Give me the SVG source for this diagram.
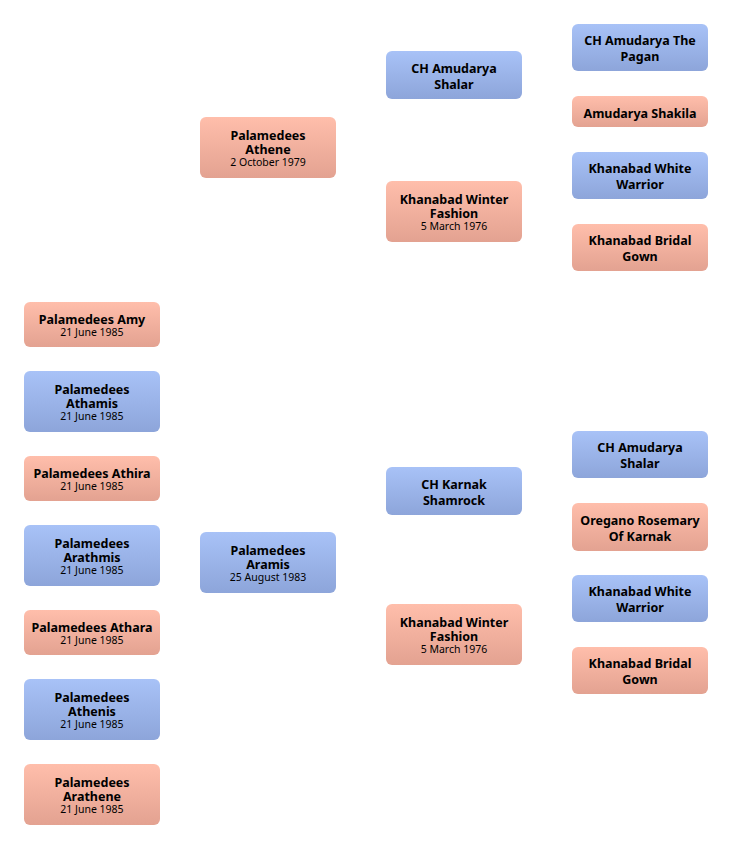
<svg xmlns="http://www.w3.org/2000/svg" width="732" height="849" viewBox="0 0 732 849">
<defs>
<linearGradient id="gp" x1="0" y1="0" x2="0" y2="1">
<stop offset="0" stop-color="#ffbeab"/>
<stop offset="1" stop-color="#e3a291"/>
</linearGradient>
<linearGradient id="gb" x1="0" y1="0" x2="0" y2="1">
<stop offset="0" stop-color="#a8c2f7"/>
<stop offset="1" stop-color="#8da5da"/>
</linearGradient>
</defs>
<style>
.p{fill:url(#gp)}
.b{fill:url(#gb)}
text{font-family:"Noto Sans","DejaVu Sans",sans-serif;text-anchor:middle;fill:#000}
.n{font-size:12.5px;font-weight:bold}
.d{font-size:10.5px}
</style>
<rect width="732" height="849" fill="#fff"/>
<g id="connectors"></g>

<g id="amy"><rect class="p" x="24" y="302" width="136" height="45" rx="6"/>
<text class="n" x="92" y="323.5">Palamedees Amy</text><text class="d" x="92" y="335.5">21 June 1985</text></g>
<g id="athamis"><rect class="b" x="24" y="371" width="136" height="61" rx="6"/>
<text class="n" x="92" y="393.5">Palamedees</text><text class="n" x="92" y="408">Athamis</text><text class="d" x="92" y="420">21 June 1985</text></g>
<g id="athira"><rect class="p" x="24" y="456" width="136" height="45" rx="6"/>
<text class="n" x="92" y="477.5">Palamedees Athira</text><text class="d" x="92" y="489.5">21 June 1985</text></g>
<g id="arathmis"><rect class="b" x="24" y="525" width="136" height="61" rx="6"/>
<text class="n" x="92" y="547.5">Palamedees</text><text class="n" x="92" y="562">Arathmis</text><text class="d" x="92" y="574">21 June 1985</text></g>
<g id="athara"><rect class="p" x="24" y="610" width="136" height="45" rx="6"/>
<text class="n" x="92" y="631.5">Palamedees Athara</text><text class="d" x="92" y="643.5">21 June 1985</text></g>
<g id="athenis"><rect class="b" x="24" y="679" width="136" height="61" rx="6"/>
<text class="n" x="92" y="701.5">Palamedees</text><text class="n" x="92" y="716">Athenis</text><text class="d" x="92" y="728">21 June 1985</text></g>
<g id="arathene"><rect class="p" x="24" y="764" width="136" height="61" rx="6"/>
<text class="n" x="92" y="786.5">Palamedees</text><text class="n" x="92" y="801">Arathene</text><text class="d" x="92" y="813">21 June 1985</text></g>

<g id="athene"><rect class="p" x="200" y="117" width="136" height="61" rx="6"/>
<text class="n" x="268" y="139.5">Palamedees</text><text class="n" x="268" y="154">Athene</text><text class="d" x="268" y="166">2 October 1979</text></g>
<g id="aramis"><rect class="b" x="200" y="532" width="136" height="61" rx="6"/>
<text class="n" x="268" y="554.5">Palamedees</text><text class="n" x="268" y="569">Aramis</text><text class="d" x="268" y="581">25 August 1983</text></g>

<g id="shalar1"><rect class="b" x="386" y="51" width="136" height="48" rx="6"/>
<text class="n" x="454" y="72.5">CH Amudarya</text><text class="n" x="454" y="88.5">Shalar</text></g>
<g id="kwf1"><rect class="p" x="386" y="181" width="136" height="61" rx="6"/>
<text class="n" x="454" y="203.5">Khanabad Winter</text><text class="n" x="454" y="218">Fashion</text><text class="d" x="454" y="230">5 March 1976</text></g>
<g id="karnak"><rect class="b" x="386" y="467" width="136" height="48" rx="6"/>
<text class="n" x="454" y="488.5">CH Karnak</text><text class="n" x="454" y="504.5">Shamrock</text></g>
<g id="kwf2"><rect class="p" x="386" y="604" width="136" height="61" rx="6"/>
<text class="n" x="454" y="626.5">Khanabad Winter</text><text class="n" x="454" y="641">Fashion</text><text class="d" x="454" y="653">5 March 1976</text></g>

<g id="pagan"><rect class="b" x="572" y="24" width="136" height="47" rx="6"/>
<text class="n" x="640" y="45">CH Amudarya The</text><text class="n" x="640" y="61">Pagan</text></g>
<g id="shakila"><rect class="p" x="572" y="96" width="136" height="31" rx="6"/>
<text class="n" x="640" y="117.5">Amudarya Shakila</text></g>
<g id="kww1"><rect class="b" x="572" y="152" width="136" height="47" rx="6"/>
<text class="n" x="640" y="173">Khanabad White</text><text class="n" x="640" y="189">Warrior</text></g>
<g id="kbg1"><rect class="p" x="572" y="224" width="136" height="47" rx="6"/>
<text class="n" x="640" y="245">Khanabad Bridal</text><text class="n" x="640" y="261">Gown</text></g>
<g id="shalar2"><rect class="b" x="572" y="431" width="136" height="47" rx="6"/>
<text class="n" x="640" y="452">CH Amudarya</text><text class="n" x="640" y="468">Shalar</text></g>
<g id="oregano"><rect class="p" x="572" y="503" width="136" height="48" rx="6"/>
<text class="n" x="640" y="524.5">Oregano Rosemary</text><text class="n" x="640" y="540.5">Of Karnak</text></g>
<g id="kww2"><rect class="b" x="572" y="575" width="136" height="47" rx="6"/>
<text class="n" x="640" y="596">Khanabad White</text><text class="n" x="640" y="612">Warrior</text></g>
<g id="kbg2"><rect class="p" x="572" y="647" width="136" height="47" rx="6"/>
<text class="n" x="640" y="668">Khanabad Bridal</text><text class="n" x="640" y="684">Gown</text></g>
</svg>
